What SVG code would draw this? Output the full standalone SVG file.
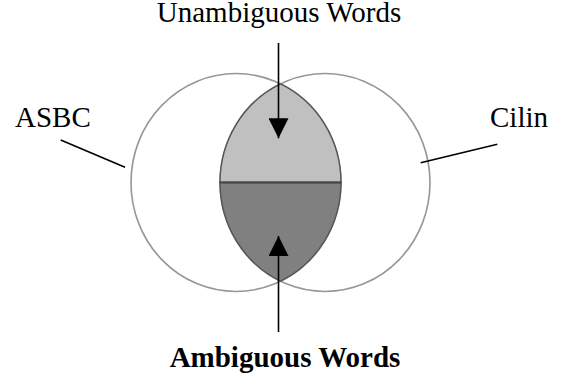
<svg xmlns="http://www.w3.org/2000/svg" width="565" height="383" viewBox="0 0 565 383">
<style>
.set{fill:none;stroke:#979797;stroke-width:1.6}
.lens{stroke:#555;stroke-width:1.4}
.lbl{font-family:"Liberation Serif","Times New Roman",serif;font-size:29px;fill:#000}
.conn{stroke:#000;stroke-width:1.6;fill:none}
</style>
<defs>
<marker id="ah" markerUnits="userSpaceOnUse" markerWidth="20" markerHeight="20" refX="20" refY="10" orient="auto">
<path d="M0,0 L20,10 L0,20 Z" fill="#000"/>
</marker>
</defs>
<rect width="565" height="383" fill="#fff"/>
<g id="asbc">
<ellipse class="set" cx="236" cy="182.5" rx="105" ry="109"/>
<text class="lbl" x="15" y="127.3">ASBC</text>
</g>
<g id="cilin">
<ellipse class="set" cx="325" cy="182.5" rx="105" ry="109"/>
<text class="lbl" x="490" y="127.3">Cilin</text>
</g>
<g id="unambiguous">
<path class="lens" fill="#c0c0c0" d="M280.5,83.8 A105,109 0 0,1 341,182.5 L220,182.5 A105,109 0 0,1 280.5,83.8 Z"/>
<text class="lbl" x="279" y="21.5" text-anchor="middle">Unambiguous Words</text>
</g>
<g id="ambiguous">
<path class="lens" fill="#808080" d="M220,182.5 L341,182.5 A105,109 0 0,1 280.5,281.2 A105,109 0 0,1 220,182.5 Z"/>
<line x1="220" y1="182.5" x2="341" y2="182.5" stroke="#444" stroke-width="2"/>
<text class="lbl" x="285" y="367.3" text-anchor="middle" font-weight="bold">Ambiguous Words</text>
</g>
<g id="connectors">
<line class="conn" x1="278.5" y1="43" x2="278.5" y2="138.3" marker-end="url(#ah)"/>
<line class="conn" x1="278.5" y1="332" x2="278.5" y2="236" marker-end="url(#ah)"/>
<line class="conn" x1="60.7" y1="140" x2="125" y2="167.3"/>
<line class="conn" x1="420.7" y1="162.7" x2="497.3" y2="144.3"/>
</g>
</svg>
